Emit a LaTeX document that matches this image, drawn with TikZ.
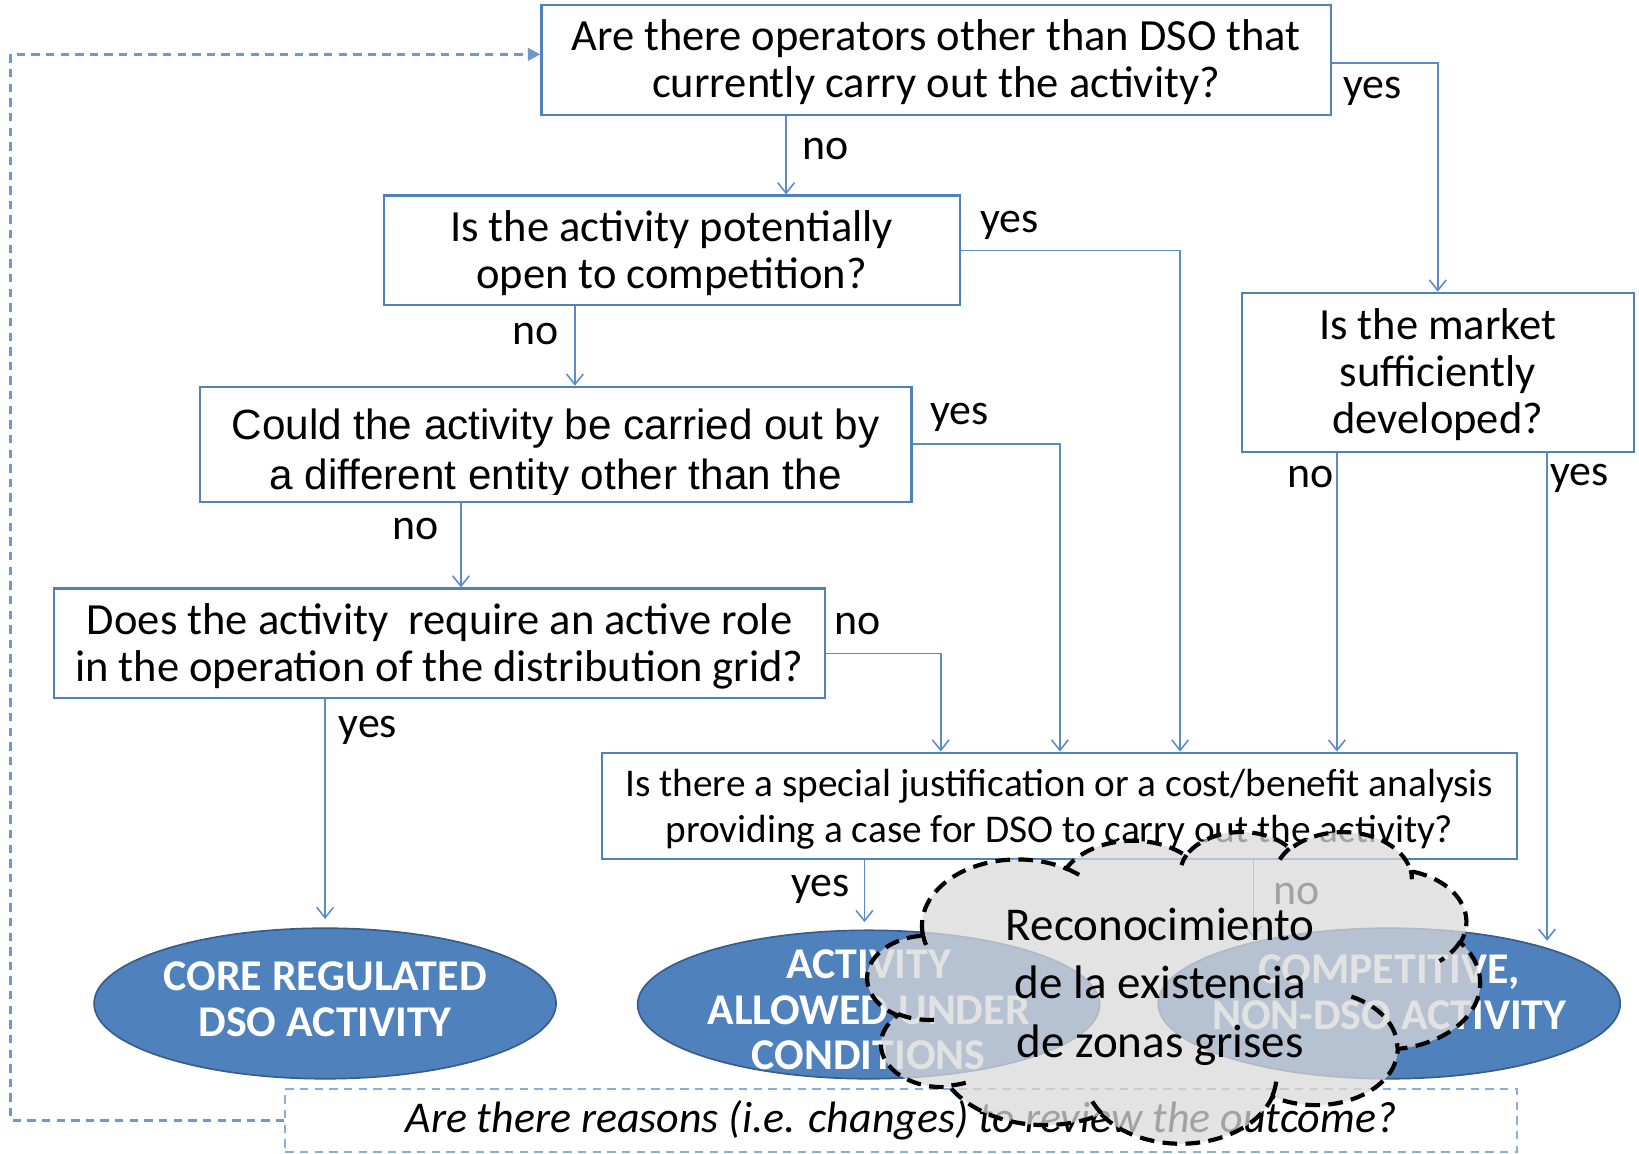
\documentclass[tikz,border=0pt]{standalone}
\usepackage{fontspec}
\setmainfont{Carlito}
\newfontfamily\arialfont{Liberation Sans}
\usetikzlibrary{arrows.meta,shapes.geometric}

\definecolor{boxblue}{RGB}{79,129,189}
\definecolor{linkblue}{RGB}{91,139,201}
\definecolor{fbblue}{RGB}{110,152,207}
\definecolor{ovalfill}{RGB}{79,129,189}
\definecolor{ovaledge}{RGB}{56,93,138}
\definecolor{cloudgray}{RGB}{217,217,217}

\tikzset{
  qbox/.style={draw=boxblue, line width=1pt, rectangle, inner sep=0pt, align=center,
               font=\fontsize{21.3}{22.5}\selectfont},
  link/.style={draw=linkblue, line width=0.75pt, -{Straight Barb[length=5pt,width=8pt]}},
  lbl/.style={inner sep=0pt, font=\fontsize{21}{22}\selectfont},
  oval/.style={ellipse, draw=ovaledge, line width=0.8pt, fill=ovalfill, inner sep=0pt},
  ovaltext/.style={text=white, align=center, inner sep=0pt,
                   font=\bfseries\fontsize{21}{22}\selectfont},
  fb/.style={draw=fbblue, line width=1.1pt, dash pattern=on 4pt off 3pt},
  cloudline/.style={draw=black, line width=2pt, dash pattern=on 7pt off 4pt},
  % outline of the cloud, in thousandths of its frame
  cloudpath/.style={insert path={(3.900,14.370)
    arc[start angle=-187.746, delta angle=128.106, x radius=6.753, y radius=9.190]
    arc[start angle=-152.02,  delta angle=106.60,  x radius=5.333, y radius=7.267]
    arc[start angle=-153.49,  delta angle=116.16,  x radius=4.365, y radius=5.945]
    arc[start angle=-139.71,  delta angle=129.50,  x radius=4.857, y radius=6.595]
    arc[start angle=-74.77,   delta angle=97.98,   x radius=5.333, y radius=7.273]
    arc[start angle=-37.53,   delta angle=119.39,  x radius=6.775, y radius=9.220]
    arc[start angle=0.4596,   delta angle=121.52,  x radius=5.785, y radius=7.867]
    arc[start angle=16.84,    delta angle=129.39,  x radius=6.752, y radius=9.215]
    arc[start angle=58.99,    delta angle=91.20,   x radius=7.720, y radius=10.543]
    arc[start angle=-276.69,  delta angle=139.77,  x radius=4.360, y radius=5.918]
    arc[start angle=-239.65,  delta angle=143.76,  x radius=4.345, y radius=5.945]
    -- cycle}},
}

\begin{document}
\begin{tikzpicture}[x=0.5pt, y=-0.5pt]
\useasboundingbox (0,0) rectangle (1568,1104);

% ---------- question boxes ----------
\node[qbox, minimum width=377.5pt, minimum height=52.5pt] (qa) at (895.5,57.5) {};
\node[inner sep=0pt, align=center, font=\fontsize{21.3}{22.5}\selectfont] (qatext) at (895.5,59.5)
  {Are there operators other than DSO that\\currently carry out the activity?};
\node[qbox, minimum width=275.5pt, minimum height=52.5pt] (qb) at (642.5,239.5) {};
\node[inner sep=0pt, align=center, font=\fontsize{21.3}{22.5}\selectfont] (qbtext) at (642.5,242)
  {Is the activity potentially\\open to competition?};
\node[qbox, minimum width=340.5pt, minimum height=55pt] (qc) at (531.5,425) {};
\begin{scope}
  \clip ([shift={(1pt,-1pt)}]qc.north west) rectangle ([shift={(-1pt,4pt)}]qc.south east);
  \node[inner sep=0pt, align=center, font=\arialfont\fontsize{20.2}{24}\selectfont]
    (qctext) at (531.5,434) {Could the activity be carried out by\\a different entity other than the};
\end{scope}
\node[qbox, minimum width=368.5pt, minimum height=52.5pt] (qd) at (420.5,615.5) {};
\node[inner sep=0pt, align=center, font=\fontsize{21.3}{22.5}\selectfont] (qdtext) at (420.5,618)
  {Does the activity\ \ require an active role\\in the operation of the distribution grid?};
\node[qbox, minimum width=437.5pt, minimum height=51pt] (qe) at (1013.5,771) {};
\node[inner sep=0pt, align=center, font=\fontsize{18.8}{22}\selectfont] (qetext) at (1013.5,774)
  {Is there a special justification or a cost/benefit analysis\\providing a case for DSO to carry out the activity?};
\node[qbox, minimum width=187.5pt, minimum height=76pt] (qf) at (1375.5,356) {};
\node[inner sep=0pt, align=center, font=\fontsize{21.3}{22.5}\selectfont] (qftext) at (1375.5,358.5)
  {Is the market\\sufficiently\\developed?};

% ---------- outcomes ----------
\node[oval, minimum width=221pt, minimum height=72pt] (core) at (311,960) {};
\node[ovaltext] (coretext) at (311,956) {CORE REGULATED\\DSO ACTIVITY};
\node[oval, minimum width=221pt, minimum height=71pt] (allowed) at (831,961) {};
\node[ovaltext] (allowedtext) at (831,966) {ACTIVITY\\ALLOWED UNDER\\CONDITIONS};
\node[oval, minimum width=221pt, minimum height=72pt] (comp) at (1329,960) {};
\node[ovaltext] (comptext) at (1329,949) {COMPETITIVE,\\NON-DSO ACTIVITY};

% ---------- branch positions ----------
\coordinate (xab) at (752,0);
\coordinate (xbc) at (550,0);
\coordinate (xbe) at (1129,0);
\coordinate (xcd) at (441,0);
\coordinate (xce) at (1014,0);
\coordinate (yaf) at (0,60);
\coordinate (ydn) at (0,625);
\coordinate (xde) at (900,0);
\coordinate (xfe) at (1279,0);
\coordinate (xfc) at (1480,0);
\coordinate (fctip) at (1480,900);
\coordinate (xea) at (827,0);
\coordinate (xec) at (1199,0);
\coordinate (ectip) at (1199,897);

% ---------- connectors ----------
\draw[link] (qa.south -| xab) -- (qb.north -| xab);
\draw[link] (qa.east |- yaf) -| (qf.north);
\draw[link] (qb.south -| xbc) -- (qc.north -| xbc);
\draw[link] (qb.east) -| (qe.north -| xbe);
\draw[link] (qc.south -| xcd) -- (qd.north -| xcd);
\draw[link] (qc.east) -| (qe.north -| xce);
\draw[link] (qd.east |- ydn) -| (qe.north -| xde);
\draw[link, shorten >=4pt] (qd.south -| core.north) -- (core.north);
\draw[link] (qf.south -| xfe) -- (qe.north -| xfe);
\draw[link] (qf.south -| xfc) -- (fctip);
\draw[link, shorten >=3.5pt] (qe.south -| xea) -- (xea |- allowed.north);
\draw[link] (qe.south -| xec) -- (ectip);

% ---------- branch labels ----------
\node[lbl] (l1) at (790,143) {no};
\node[lbl] (l2) at (1313,87) {yes};
\node[lbl] (l3) at (966,216) {yes};
\node[lbl] (l4) at (512,320) {no};
\node[lbl] (l5) at (918,399) {yes};
\node[lbl] (l6) at (398,506) {no};
\node[lbl] (l7) at (820,597) {no};
\node[lbl] (l8) at (352,699) {yes};
\node[lbl] (l9) at (1254,456) {no};
\node[lbl] (l10) at (1511,458) {yes};
\node[lbl] (l11) at (785,851) {yes};
\node[lbl] (l12) at (1240,855) {no};

% ---------- review loop ----------
\node[fb, draw=fbblue!80, line width=0.9pt, minimum width=589pt, minimum height=30pt, inner sep=0pt,
      font=\itshape\fontsize{21}{22}\selectfont] (qr) at (862,1072)
  {Are there reasons (i.e. changes) to review the outcome?};
\coordinate (fbcorner) at (10,52);
\draw[fb, -{Triangle[length=6pt,width=6pt]}] (qr.west) -| (fbcorner) -- (qa.west |- fbcorner);

% ---------- grey-zone cloud ----------
\begin{scope}[shift={(830,795)}, x=6.78pt, y=-3.45pt]
  \path[fill=cloudgray, fill opacity=0.75, cloudpath];
  \draw[cloudline, cloudpath];
  % inner hooks of the cloud
  \draw[cloudline] (4.693,26.177)  arc[start angle=85.55,   delta angle=34.80, x radius=4.345, y radius=5.945];
  \draw[cloudline] (6.928,34.899)  arc[start angle=68.24,   delta angle=15.07, x radius=4.360, y radius=5.918];
  \draw[cloudline] (16.478,39.090) arc[start angle=146.23,  delta angle=12.25, x radius=6.752, y radius=9.215];
  \draw[cloudline] (28.827,34.751) arc[start angle=4.74,    delta angle=12.10, x radius=6.752, y radius=9.215];
  \draw[cloudline] (34.129,22.954) arc[start angle=-64.03,  delta angle=64.49, x radius=5.785, y radius=7.867];
  \draw[cloudline] (41.798,15.354) arc[start angle=23.21,   delta angle=26.43, x radius=5.333, y radius=7.273];
  \draw[cloudline] (38.324,5.426)  arc[start angle=-10.21,  delta angle=11.03, x radius=4.857, y radius=6.595];
  \draw[cloudline] (29.078,3.952)  arc[start angle=-156.29, delta angle=16.58, x radius=4.857, y radius=6.595];
  \draw[cloudline] (22.141,4.720)  arc[start angle=-167.73, delta angle=14.24, x radius=4.365, y radius=5.945];
  \draw[cloudline] (14.000,5.192)  arc[start angle=-59.64,  delta angle=13.89, x radius=6.753, y radius=9.190];
  \draw[cloudline] (4.127,15.789)  arc[start angle=163.19,  delta angle=9.06,  x radius=6.753, y radius=9.190];
\end{scope}
\node[inner sep=0pt, align=center, font=\fontsize{22.5}{28}\selectfont] (cloudtext) at (1110,944)
  {Reconocimiento\\de la existencia\\de zonas grises};

\end{tikzpicture}
\end{document}
